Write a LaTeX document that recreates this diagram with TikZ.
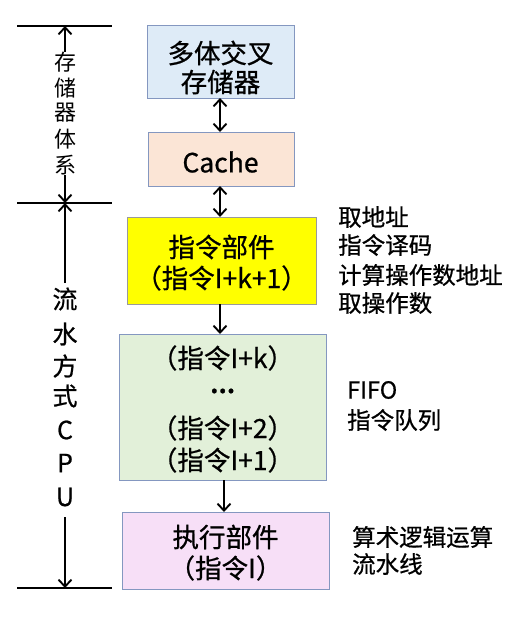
\documentclass[tikz,border=0pt]{standalone}
\usepackage{fontspec}
\setmainfont{Noto Sans CJK SC}[FakeBold=0.7]
\newfontfamily\thinfont{Noto Sans CJK SC}
\usetikzlibrary{arrows.meta}
\definecolor{bluebd}{HTML}{8497C0}
\definecolor{graybd}{HTML}{9A9A9A}
\definecolor{memfill}{HTML}{DEEBF7}
\definecolor{cachefill}{HTML}{FBE5D6}
\definecolor{yel}{HTML}{FFFF00}
\definecolor{grnfill}{HTML}{E2F0D9}
\definecolor{pinkfill}{HTML}{F7DFF7}
\tikzset{
  box/.style={draw=bluebd, line width=1pt, inner sep=0pt},
  boxtext/.style={font=\fontsize{26.5}{29}\selectfont, align=center, inner sep=0pt},
  sidetext/.style={font=\fontsize{23.5}{29}\selectfont, align=left, anchor=west, inner sep=0pt},
  vtext/.style={font=\thinfont\fontsize{22}{25.5}\selectfont, align=center, inner sep=0pt},
  cputext/.style={font=\fontsize{25}{33}\selectfont, align=center, inner sep=0pt},
  tip/.tip={Straight Barb[length=7pt,width=13pt,line width=1.9pt]},
  arr/.style={line width=1.9pt, -tip},
  darr/.style={line width=1.9pt, tip-tip},
  rule/.style={line width=1.9pt},
}
\begin{document}
\begin{tikzpicture}[x=1pt,y=-1pt]
\useasboundingbox (0,0) rectangle (524,618);
% boxes
\path[box, fill=memfill] (147,26) rectangle (294,98);
\path[box, fill=cachefill] (148,132) rectangle (294,186);
\path[box, draw=graybd, fill=yel] (127,217) rectangle (316,304);
\path[box, fill=grnfill] (119,334) rectangle (326,480);
\path[box, fill=pinkfill] (122,512) rectangle (329,589);
% box nodes (named, for connectors)
\node[minimum width=147pt, minimum height=72pt, inner sep=0pt] (mem) at (220.5,62) {};
\node[minimum width=146pt, minimum height=54pt, inner sep=0pt] (cache) at (221,159) {};
\node[minimum width=189pt, minimum height=87pt, inner sep=0pt] (ifu) at (221.5,260.5) {};
\node[minimum width=207pt, minimum height=146pt, inner sep=0pt] (fifo) at (222.5,407) {};
\node[minimum width=207pt, minimum height=77pt, inner sep=0pt] (exe) at (225.5,550.5) {};
% texts in boxes
\node[boxtext] (t1) at (220.5,53) {多体交叉};
\node[boxtext] (t2) at (220.5,82) {存储器};
\node[boxtext] (t3) at (220.5,162) {Cache};
\node[boxtext] (t4) at (221.5,247) {指令部件};
\node[boxtext] (t5) at (221.5,278) {（指令I+k+1）};
\node[boxtext] (t6) at (222.5,358) {（指令I+k）};
\node[boxtext, font=\bfseries\fontsize{22}{24}\selectfont] (t7) at (222.5,391) {…};
\node[boxtext] (t8) at (222.5,428) {（指令I+2）};
\node[boxtext] (t9) at (222.5,460) {（指令I+1）};
\node[boxtext] (t10) at (225.5,537) {执行部件};
\node[boxtext] (t11) at (225.5,568) {（指令I）};
% connectors
\coordinate (a1) at (220,98);
\coordinate (a2) at (220,132);
\coordinate (b1) at (220,186);
\coordinate (b2) at (220,217);
\coordinate (c1) at (220,304);
\coordinate (c2) at (220,334);
\coordinate (d1) at (224,480);
\coordinate (d2) at (224,512);
\draw[darr] (a1) -- (a2);
\draw[darr] (b1) -- (b2);
\draw[arr] (c1) -- (c2);
\draw[arr] (d1) -- (d2);
% side texts
\node[sidetext] (s1) at (338,217) {取地址};
\node[sidetext] (s2) at (338,245) {指令译码};
\node[sidetext] (s3) at (338,275) {计算操作数地址};
\node[sidetext] (s4) at (338,303) {取操作数};
\node[sidetext] (s5) at (347,390) {FIFO};
\node[sidetext] (s6) at (347,420) {指令队列};
\node[sidetext] (s7) at (352,537) {算术逻辑运算};
\node[sidetext] (s8) at (352,564) {流水线};
% left brackets
\coordinate (l1a) at (17,26);  \coordinate (l1b) at (112,26);
\coordinate (l2a) at (17,203); \coordinate (l2b) at (112,203);
\coordinate (l3a) at (17,588); \coordinate (l3b) at (112,588);
\draw[rule] (l1a) -- (l1b);
\draw[rule] (l2a) -- (l2b);
\draw[rule] (l3a) -- (l3b);
\node[vtext] (v1) at (65,62) {存};
\node[vtext] (v2) at (65,88) {储};
\node[vtext] (v3) at (65,113) {器};
\node[vtext] (v4) at (65,139) {体};
\node[vtext] (v5) at (65,165) {系};
\node[cputext] (w1) at (65,299) {流};
\node[cputext] (w2) at (65,334) {水};
\node[cputext] (w3) at (65,366) {方};
\node[cputext] (w4) at (65,396) {式};
\node[cputext] (w5) at (65,430) {C};
\node[cputext] (w6) at (65,463) {P};
\node[cputext] (w7) at (65,497) {U};
\coordinate (p1) at (65,26);
\coordinate (p2) at (65,203);
\coordinate (p3) at (65,588);
\coordinate (q1) at (65,283);
\coordinate (q2) at (65,517);
\draw[arr] (v1.north) -- (p1);
\draw[arr] (v5.south) -- (p2);
\draw[arr] (q1) -- (p2);
\draw[arr] (q2) -- (p3);
\end{tikzpicture}
\end{document}
